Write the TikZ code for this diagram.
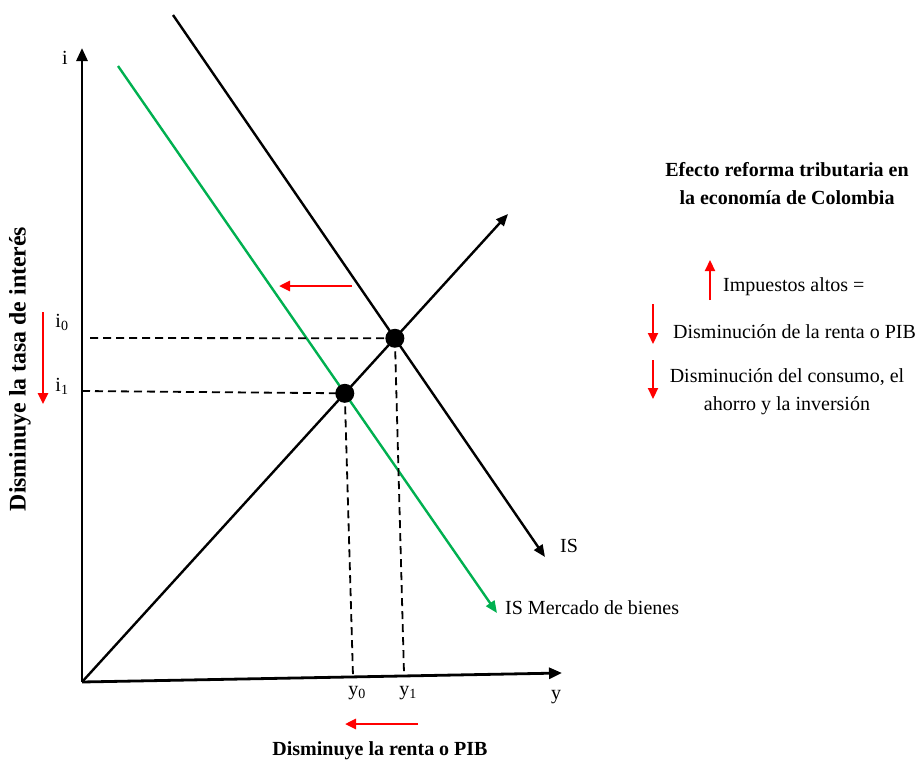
\documentclass[tikz,border=0pt]{standalone}
\usepackage{fontspec}
\setmainfont{Liberation Serif}
\usetikzlibrary{arrows.meta,positioning}
\definecolor{isgreen}{RGB}{0,176,80}

\begin{document}
\begin{tikzpicture}[x=1pt, y=-1pt,
  axis/.style={line width=2.8pt, -{Triangle[length=13pt,width=11pt]}},
  curve/.style={line width=2.4pt, -{Triangle[length=12pt,width=10pt]}},
  guide/.style={dash pattern=on 8pt off 5pt, line width=1.8pt},
  redarr/.style={red, line width=2.6pt, -{Triangle[length=11pt,width=10pt]}},
  eq/.style={circle, fill=black, inner sep=0pt, minimum size=19pt},
  lbl/.style={font=\fontsize{20}{24}\selectfont, inner sep=0pt},
  hdr/.style={font=\fontsize{20}{28}\selectfont\bfseries, align=center, inner sep=0pt}
]
  \useasboundingbox (0,0) rectangle (919,763);

  % axes
  \coordinate (O)    at (82,682);
  \coordinate (ytop) at (82,48);
  \coordinate (xend) at (562,673);
  \draw[axis] (O) -- (ytop);
  \draw[axis] (O) -- (xend);
  \node[lbl] (ilbl) at (65,58)  {i};
  \node[lbl] (ylbl) at (556,697) {y};

  % curves
  \coordinate (lmend) at (508,214);
  \coordinate (isa)   at (173,15);
  \coordinate (isb)   at (545,557);
  \coordinate (gra)   at (118,66);
  \coordinate (grb)   at (497,613);
  \draw[curve] (O) -- (lmend);
  \draw[curve] (isa) -- (isb);
  \draw[curve, isgreen] (gra) -- (grb);

  \node[lbl, anchor=west] (islbl) at (560,546) {IS};
  \node[lbl, anchor=west] (ismb)  at (505,608) {IS Mercado de bienes};

  % equilibria
  \coordinate (E0) at (intersection of O--lmend and isa--isb);
  \coordinate (E1) at (intersection of O--lmend and gra--grb);
  \coordinate (i0a) at (90,338);
  \coordinate (i1a) at (82,391);
  \coordinate (y0b) at (353,676);
  \coordinate (y1b) at (404,673);
  \draw[guide] (i0a) -- (E0);
  \draw[guide] (i1a) -- (E1);
  \draw[guide] (E0) -- (y1b);
  \draw[guide] (E1) -- (y0b);
  \node[eq] (e0) at (E0) {};
  \node[eq] (e1) at (E1) {};

  \node[lbl] (i0) at (62,322) {i\textsubscript{0}};
  \node[lbl] (i1) at (62,386) {i\textsubscript{1}};
  \node[lbl] (y0) at (357,693) {y\textsubscript{0}};
  \node[lbl] (y1) at (408,693) {y\textsubscript{1}};

  % shifts
  \coordinate (sia) at (43,312);
  \coordinate (sib) at (43,404);
  \coordinate (sca) at (352,286);
  \coordinate (scb) at (279,286);
  \coordinate (sya) at (418,724);
  \coordinate (syb) at (345,724);
  \draw[redarr] (sia) -- (sib);
  \draw[redarr] (sca) -- (scb);
  \draw[redarr] (sya) -- (syb);

  \node[hdr, rotate=90] (vlab) at (20,369)
        {\scalebox{1.19}[1.19]{Disminuye la tasa de interés}};
  \node[hdr] (hlab) at (380,751) {Disminuye la renta o PIB};

  % effect text
  \node[hdr] (ttl) at (787,184) {Efecto reforma tributaria en\\la economía de Colombia};
  \node[lbl, anchor=west] (imp) at (723,287) {Impuestos altos =};
  \node[lbl, anchor=west] (dren) at (673,332) {Disminución de la renta o PIB};
  \node[lbl, align=center, font=\fontsize{20}{28}\selectfont] (dcon) at (787,392)
        {Disminución del consumo, el\\ahorro y la inversión};

  \coordinate (upa) at (710,300);
  \coordinate (upb) at (710,260);
  \coordinate (dra) at (653,304);
  \coordinate (drb) at (653,344);
  \coordinate (dca) at (653,360);
  \coordinate (dcb) at (653,399);
  \draw[redarr, line width=2.2pt] (upa) -- (upb);
  \draw[redarr, line width=2.2pt] (dra) -- (drb);
  \draw[redarr, line width=2.2pt] (dca) -- (dcb);
\end{tikzpicture}
\end{document}
